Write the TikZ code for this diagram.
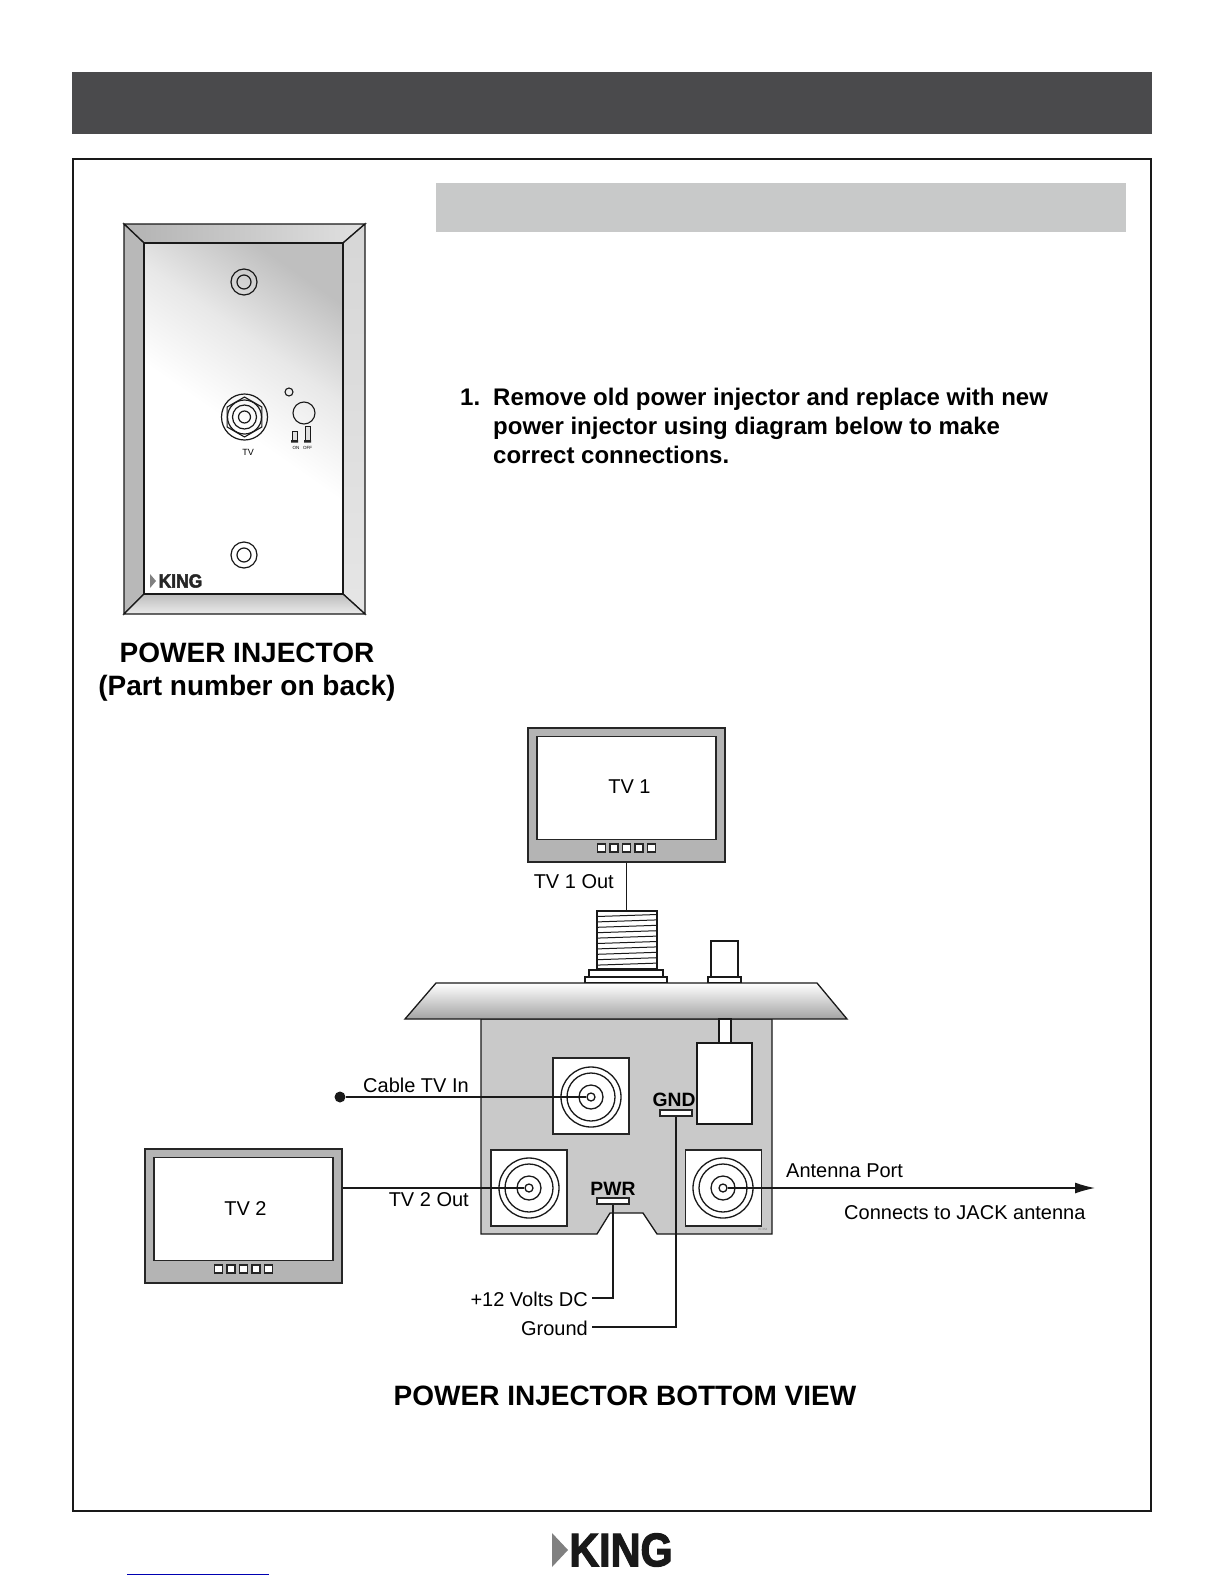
\documentclass[tikz,border=0pt]{standalone}
\usepackage{fontspec}
\setmainfont{Liberation Sans}
\newfontfamily\logofont[FakeBold=2.5]{Liberation Sans Bold}
\usetikzlibrary{shapes.geometric,arrows.meta}
\definecolor{headgray}{HTML}{4A4A4C}
\definecolor{bargray}{HTML}{C8C9C9}
\definecolor{bodygray}{HTML}{C9C9C9}
\definecolor{tvgray}{HTML}{B4B4B4}
\pgfdeclareverticalshading{platesheen}{100bp}{color(0bp)=(white);color(48bp)=(white);color(62bp)=(black!9);color(76bp)=(black!25);color(100bp)=(black!25)}
\tikzset{
  wire/.style={line width=1.3pt,black!90},
  tvbody/.style={draw=black!85,fill=tvgray,line width=1.4pt,minimum width=197pt,minimum height=134pt,inner sep=0pt},
  tvscreen/.style={draw=black!85,fill=white,line width=1.4pt,minimum width=179pt,minimum height=103pt,inner sep=0pt},
  tvbutton/.style={draw=black!85,fill=white,line width=1.3pt,minimum size=8pt,inner sep=0pt},
  port/.style={draw=black!85,fill=white,line width=1.2pt,minimum size=76pt,inner sep=0pt},
  jackpin/.style={circle,draw=black!90,line width=1.3pt,minimum size=8pt,inner sep=0pt},
  wlabel/.style={inner sep=0pt,font=\fontsize{20}{22}\selectfont},
  padlabel/.style={inner sep=0pt,font=\bfseries\fontsize{19.3}{22}\selectfont},
  pad/.style={draw=black!85,fill=white,line width=1.1pt,minimum width=32pt,minimum height=6pt,inner sep=0pt},
  bigtitle/.style={inner sep=0pt,align=center,font=\bfseries\fontsize{28}{33.5}\selectfont}
}
\begin{document}
\begin{tikzpicture}[x=1pt,y=-1pt]
\useasboundingbox (0,0) rectangle (1224,1584);
\fill[headgray] (72,72) rectangle (1152,134);
\draw[line width=1.8pt,black!90] (73,159) rectangle (1151,1511);
\fill[bargray] (436,183) rectangle (1126,232);
% wall plate
\shade[left color=black!30,right color=black!12,draw=black!90,line width=1.3pt] (124,224)--(365,224)--(343,243)--(144,243)--cycle;
\shade[top color=black!28,bottom color=black!28,draw=black!90,line width=1.3pt] (124,224)--(144,243)--(144,594)--(124,614)--cycle;
\shade[top color=black!16,bottom color=black!10,draw=black!90,line width=1.3pt] (365,224)--(343,243)--(343,594)--(365,614)--cycle;
\shade[top color=black!26,bottom color=black!8,draw=black!90,line width=1.3pt] (124,614)--(144,594)--(343,594)--(365,614)--cycle;
\shade[shading=platesheen,shading angle=-35,draw=black!90,line width=1.3pt] (144,243) rectangle (343,594);
\foreach \y in {282,555}{
\draw[black!90,line width=1.2pt] (244,\y) circle (13pt);
\draw[black!90,line width=1.2pt] (244,\y) circle (7pt);
}
\foreach \r in {23,17,12,6}{\draw[black!90,line width=1.2pt] (244.5,417) circle (\r pt);}
\node[regular polygon,regular polygon sides=6,shape border rotate=30,draw=black!90,line width=1.1pt,minimum size=40pt,inner sep=0pt] (hexnut) at (244.5,417) {};
\draw[black!90,line width=1.1pt] (289,392) circle (4pt);
\draw[black!90,line width=1.1pt] (304,413) circle (11pt);
\draw[black!90,line width=1pt,fill=black!12] (292,431) rectangle (297,440);
\draw[black!90,line width=1pt,fill=black!12] (305,426) rectangle (310,440);
\fill[black!85] (291,440) rectangle (298,442.5) (304,440) rectangle (311,442.5);
\node[inner sep=0pt,font=\fontsize{9}{10}\selectfont] (tvtag) at (248,452) {TV};
\node[inner sep=0pt,font=\fontsize{4.5}{5}\selectfont] (ontag) at (296,448) {ON};
\node[inner sep=0pt,font=\fontsize{4.5}{5}\selectfont] (offtag) at (307.5,448) {OFF};
\fill[black!50] (150,574) -- (156,581) -- (150,588) -- cycle;
\node[inner sep=0pt,xscale=.92,font=\logofont\fontsize{19}{20}\selectfont,black!85] (platelogo) at (180.5,581) {KING};
\node[bigtitle] (plateinfo) at (247,672) {POWER INJECTOR\\(Part number on back)};
\node[inner sep=0pt,align=left,anchor=north west,font=\bfseries\fontsize{24}{29}\selectfont] (stepone) at (493,388) {Remove old power injector and replace with new\\power injector using diagram below to make\\correct connections.};
\node[inner sep=0pt,anchor=north west,font=\bfseries\fontsize{24}{29}\selectfont] (stepnum) at (460,389) {1.};
% television sets
\node[tvbody] (tvone) at (626.5,795) {};
\node[tvscreen] (screenone) at (626.5,788) {};
\node[wlabel] (tvonetag) at (629.5,787) {TV 1};
\node[tvbody] (tvtwo) at (243.5,1216) {};
\node[tvscreen] (screentwo) at (243.5,1209) {};
\node[wlabel] (tvtwotag) at (245.5,1209) {TV 2};
\foreach \x in {-25,-12.5,0,12.5,25}{
\node[tvbutton] at (626.5+\x,848) {};
\node[tvbutton] at (243.5+\x,1269) {};
}
% injector
\draw[fill=white,draw=black!90,line width=1.2pt] (711,941) rectangle (738,977);
\node[draw=black!90,fill=white,line width=1.2pt,minimum width=33pt,minimum height=6pt,inner sep=0pt] (smallbase) at (724.5,980) {};
\node[draw=black!90,fill=white,line width=1.2pt,minimum width=60pt,minimum height=58pt,inner sep=0pt] (thread) at (627,940) {};
\foreach \i in {0,...,9}{
\pgfmathsetmacro{\a}{915.5+5.4*\i}
\draw[black!90,line width=1pt] (597,\a+1)--(657,\a-1);
}
\draw[fill=white,draw=black!90,line width=1.2pt] (589,970) rectangle (663,977);
\draw[fill=white,draw=black!90,line width=1.2pt] (585,977) rectangle (667,983);
\draw[fill=bodygray,draw=black!90,line width=1.3pt] (481,1019)--(772,1019)--(772,1234)--(657,1234)--(643,1213)--(610,1213)--(597,1234)--(481,1234)--cycle;
\shade[top color=white,middle color=white,bottom color=black!36,draw=black!90,line width=1.3pt] (436,983)--(817,983)--(847,1019)--(405,1019)--cycle;
\draw[fill=white,draw=black!90,line width=1.2pt] (719,1019) rectangle (731,1043);
\node[draw=black!90,fill=white,line width=1.2pt,minimum width=55pt,minimum height=81pt,inner sep=0pt] (filterbox) at (724.5,1083.5) {};
\node[port] (cableport) at (591,1096) {};
\node[port] (tvtwoport) at (529,1188) {};
\node[port] (antport) at (723.5,1188) {};
\foreach \c/\px/\py in {cablejack/591/1097,tvtwojack/529/1188,antjack/723/1188}{
\foreach \r in {30,24,12}{\draw[black!90,line width=1.3pt] (\px,\py) circle (\r pt);}
\node[jackpin] (\c) at (\px,\py) {};
}
\node[padlabel] (gndtag) at (674,1100) {GND};
\node[pad] (gndpad) at (676,1113) {};
\node[padlabel] (pwrtag) at (613,1189) {PWR};
\node[pad] (pwrpad) at (613,1201) {};
\node[inner sep=0pt,font=\fontsize{3}{3}\selectfont,black!50] (codetag) at (763,1229) {KI 354};
% wires
\node[circle,fill=black!90,minimum size=11pt,inner sep=0pt] (cabledot) at (340,1097) {};
\coordinate (powerend) at (592,1298);
\coordinate (groundend) at (592,1327);
\coordinate (antend) at (1095,1188);
\draw[wire] (tvone.south)--(tvone.south |- thread.north);
\draw[wire] (cabledot)--(cablejack);
\draw[wire] (tvtwo.east |- tvtwojack)--(tvtwojack);
\draw[wire,-{Latex[length=20pt,width=11pt]}] (antjack)--(antend);
\draw[wire] (pwrpad.south)|-(powerend);
\draw[wire] (gndpad.south)|-(groundend);
\node[wlabel,anchor=east] (tvoneout) at (614,882) {TV 1 Out};
\node[wlabel,anchor=west] (cablein) at (363,1085) {Cable TV In};
\node[wlabel,anchor=east] (tvtwoout) at (469,1200) {TV 2 Out};
\node[wlabel,anchor=west] (antlabel) at (786,1171) {Antenna Port};
\node[wlabel,anchor=west] (jacktext) at (844,1213) {Connects to JACK antenna};
\node[wlabel,anchor=east] (voltstext) at (588,1299) {+12 Volts DC};
\node[wlabel,anchor=east] (groundtext) at (588,1328) {Ground};
\node[bigtitle] (viewtitle) at (625,1396) {POWER INJECTOR BOTTOM VIEW};
% footer
\fill[black!50] (552,1533) -- (568,1550) -- (552,1567) -- cycle;
\node[inner sep=0pt,xscale=.88,font=\logofont\fontsize{47}{48}\selectfont,black!90] (footlogo) at (621,1550) {KING};
\draw[blue!70!black,line width=.8pt] (127,1574)--(269,1574);
\end{tikzpicture}
\end{document}
